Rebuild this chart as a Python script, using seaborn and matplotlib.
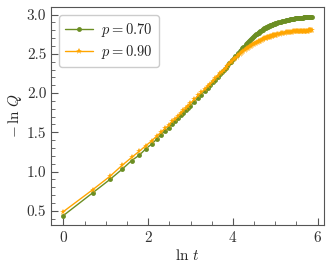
import numpy as np
import pandas as pd
import seaborn as sns
import matplotlib.pyplot as plt

# time steps t (x axis shows ln t)
t_vals = [1, 2, 3, 4, 5, 6, 7, 8, 9, 10, 11, 12, 13, 14, 15, 16, 17, 18, 19, 20,
          22, 24, 26, 28, 30, 32, 34, 36, 38, 40, 42, 44, 46, 48, 50, 52, 54, 56, 58, 60,
          62, 64, 66, 68, 70, 72, 74, 76, 78, 80, 82, 84, 86, 88, 90, 92, 94, 96, 98, 100,
          102, 104, 106, 108, 110, 112, 114, 116, 118, 120, 122, 124, 126, 128, 130,
          132, 134, 136, 138, 140, 142, 144, 146, 148, 150,
          155, 160, 165, 170, 175, 180, 185, 190, 195, 200, 205, 210, 215, 220, 225,
          230, 235, 240, 245, 250, 255, 260, 265, 270, 275, 280, 285, 290, 295, 300,
          305, 310, 315, 320, 325, 330, 335, 340, 345, 350]

# -ln Q for p = 0.70
q_070 = [0.44, 0.73, 0.90, 1.03, 1.14, 1.21, 1.29, 1.35, 1.41, 1.47, 1.52, 1.56, 1.61,
         1.65, 1.68, 1.72, 1.75, 1.78, 1.81, 1.84,
         1.89, 1.94, 1.98, 2.03, 2.07, 2.10, 2.14, 2.17, 2.21, 2.24, 2.27, 2.30, 2.32,
         2.35, 2.38, 2.40, 2.42, 2.45, 2.47, 2.49,
         2.511, 2.532, 2.552, 2.571, 2.589, 2.605, 2.620, 2.635, 2.650, 2.664, 2.678,
         2.691, 2.704, 2.717, 2.730, 2.739, 2.747, 2.756, 2.764, 2.772,
         2.780, 2.788, 2.795, 2.803, 2.810, 2.817, 2.824, 2.831, 2.835, 2.839, 2.843,
         2.847, 2.851, 2.854, 2.858, 2.862, 2.866, 2.869, 2.872, 2.876, 2.879, 2.883,
         2.886, 2.889, 2.892,
         2.897, 2.902, 2.907, 2.912, 2.916, 2.921, 2.925, 2.930, 2.932, 2.935, 2.937,
         2.940, 2.942, 2.944, 2.947, 2.949, 2.951, 2.953, 2.955, 2.956, 2.957, 2.958,
         2.959, 2.960, 2.961, 2.962, 2.963, 2.964, 2.965, 2.966, 2.967, 2.968, 2.969,
         2.970, 2.971, 2.972, 2.972, 2.973, 2.974, 2.975]

# -ln Q for p = 0.90
q_090 = [0.49, 0.77, 0.94, 1.08, 1.18, 1.26, 1.33, 1.39, 1.45, 1.50, 1.55, 1.59, 1.64,
         1.67, 1.71, 1.75, 1.78, 1.81, 1.84, 1.87,
         1.92, 1.97, 2.01, 2.05, 2.09, 2.12, 2.15, 2.19, 2.22, 2.25, 2.27, 2.30, 2.32,
         2.35, 2.37, 2.39, 2.41, 2.43, 2.45, 2.46,
         2.481, 2.496, 2.511, 2.526, 2.539, 2.550, 2.559, 2.569, 2.579, 2.588, 2.597,
         2.605, 2.613, 2.622, 2.630, 2.636, 2.642, 2.648, 2.654, 2.659,
         2.665, 2.670, 2.676, 2.681, 2.686, 2.691, 2.696, 2.701, 2.704, 2.707, 2.710,
         2.713, 2.715, 2.718, 2.721, 2.724, 2.727, 2.729, 2.732, 2.735, 2.737, 2.740,
         2.742, 2.744, 2.746,
         2.750, 2.754, 2.758, 2.761, 2.765, 2.768, 2.771, 2.775, 2.776, 2.778, 2.779,
         2.781, 2.782, 2.784, 2.785, 2.786, 2.788, 2.789, 2.790, 2.791, 2.791, 2.792,
         2.792, 2.793, 2.793, 2.794, 2.794, 2.795, 2.795, 2.796, 2.796, 2.797, 2.797,
         2.797, 2.798, 2.798, 2.799, 2.799, 2.800, 2.800]

sns.set_style("ticks")
plt.rcParams.update({
    "font.family": "serif",
    "font.serif": ["cmr10", "DejaVu Serif"],
    "mathtext.fontset": "cm",
    "axes.formatter.use_mathtext": True,
    "xtick.direction": "in",
    "ytick.direction": "in",
    "axes.edgecolor": "#555555",
    "xtick.color": "#555555",
    "ytick.color": "#555555",
    "xtick.labelcolor": "#333333",
    "ytick.labelcolor": "#333333",
})

df = pd.DataFrame({"t": t_vals, "p070": q_070, "p090": q_090})
df["ln_t"] = np.log(df["t"])

fig = plt.figure(figsize=(3.32, 2.71), dpi=100)
ax = fig.add_axes([0.154, 0.170, 0.822, 0.805])

sns.lineplot(data=df, x="ln_t", y="p070", ax=ax, color="#6b8e23", marker="o",
             markersize=3.5, markeredgewidth=0, linewidth=1, label=r"$p = 0.70$")
sns.lineplot(data=df, x="ln_t", y="p090", ax=ax, color="#ffa500", marker="*",
             markersize=5, markeredgewidth=0, linewidth=1, label=r"$p = 0.90$")

ax.set_xlim(-0.29, 6.15)
ax.set_ylim(0.32, 3.1)
ax.set_xticks([0, 2, 4, 6])
ax.set_xticks(np.arange(0, 6.01, 0.5), minor=True)
ax.set_yticks([0.5, 1.0, 1.5, 2.0, 2.5, 3.0])
ax.set_yticks(np.arange(0.4, 3.05, 0.1), minor=True)
ax.set_yticklabels(["0.5", "1.0", "1.5", "2.0", "2.5", "3.0"])
ax.tick_params(which="major", length=5, width=0.8, labelsize=11)
ax.tick_params(which="minor", length=3, width=0.6)

ax.set_xlabel(r"$\ln\, t$", fontsize=11, labelpad=2)
ax.set_ylabel(r"$-\,\ln\, Q$", fontsize=11, labelpad=2)

ax.legend(loc="upper left", fontsize=10.5, handlelength=1.9, borderaxespad=0.55,
          handletextpad=0.6, labelspacing=0.3, framealpha=1, edgecolor="#cccccc")

fig.savefig("out.png", dpi=100)
